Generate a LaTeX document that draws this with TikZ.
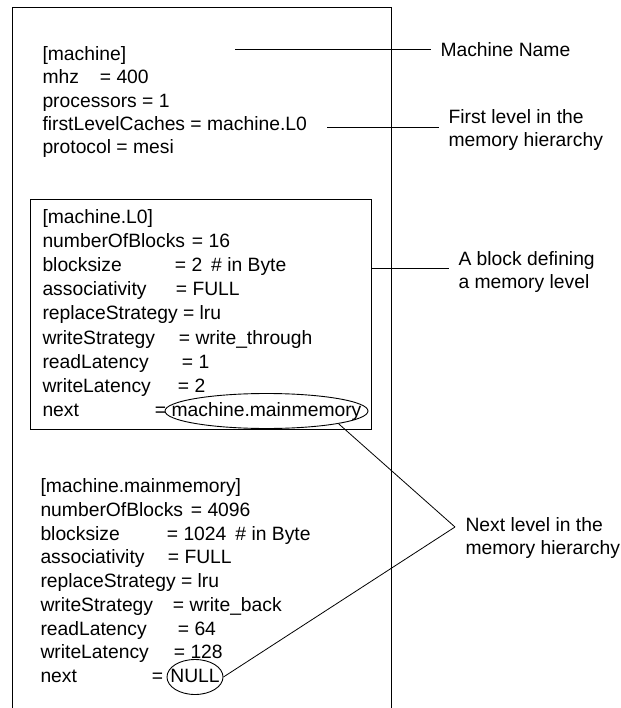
\documentclass[tikz,border=0pt]{standalone}
\usepackage{fontspec}
\setmainfont{Liberation Sans}
\usetikzlibrary{shapes.geometric}
\newcommand\cfgfont{\fontsize{19.3}{23}\selectfont}
\newcommand\kv[3]{\makebox[#1pt][l]{#2}=\ #3}

\begin{document}
\begin{tikzpicture}[x=1pt,y=-1pt,line width=1pt,
  code/.style={anchor=base west,inner sep=0pt,font=\cfgfont},
  note/.style={anchor=west,inner xsep=9pt,inner ysep=0pt,align=left,font=\cfgfont},
  ring/.style={draw,ellipse,inner sep=0pt,line width=.9pt}]
  \useasboundingbox (0,0) rectangle (620,708);
  % frames
  \draw (12,708) -- (12,8) -- (391,8) -- (391,708);
  \draw (30,200) rectangle (371,429);
  % machine section
  \foreach \txt [count=\i from 0] in {{[machine]},{\kv{57.4}{mhz}{400}},
      {processors = 1},{firstLevelCaches = machine.L0},{protocol = mesi}}
    \node[code] (top\i) at (42,{60.5+23.3*\i}) {\txt};
  % first level block
  \foreach \txt [count=\i from 0] in {{[machine.L0]},
      {\kv{149.4}{numberOfBlocks}{16}},
      {\kv{132.4}{blocksize}{2\hspace{9pt}\# in Byte}},
      {\kv{133.4}{associativity}{FULL}},
      {replaceStrategy = lru},
      {\kv{136.4}{writeStrategy}{write\_through}},
      {\kv{139.4}{readLatency}{1}},
      {\kv{135.4}{writeLatency}{2}},
      {\makebox[112.4pt][l]{next}=}}
    \node[code] (lzero\i) at (42,{223.5+24.1*\i}) {\txt};
  % main memory block
  \foreach \txt [count=\i from 0] in {{[machine.mainmemory]},
      {\kv{150.4}{numberOfBlocks}{4096}},
      {\kv{126.4}{blocksize}{1024\hspace{9pt}\# in Byte}},
      {\kv{127.4}{associativity}{FULL}},
      {replaceStrategy = lru},
      {\kv{132.4}{writeStrategy}{write\_back}},
      {\kv{137.4}{readLatency}{64}},
      {\kv{133.4}{writeLatency}{128}},
      {\makebox[111.4pt][l]{next}=}}
    \node[code] (main\i) at (40,{492.5+23.75*\i}) {\txt};
  % circled values
  \node[ring,minimum width=203pt,minimum height=35pt] (ringMM) at (266.5,411) {};
  \node[code,anchor=base] (valMM) at (266.5,416.5) {machine.mainmemory};
  \node[ring,minimum width=56pt,minimum height=35pt] (ringNull) at (195,677) {};
  \node[code,anchor=base] (valNull) at (195,682.5) {NULL};
  % notes
  \node[note] (nName) at (431,50) {Machine Name};
  \node[note] (nFirst) at (439,130.5) {First level in the\\memory hierarchy};
  \node[note] (nBlock) at (449,272.5) {A block defining\\a memory level};
  \node[note] (nNext) at (456,538.5) {Next level in the\\memory hierarchy};
  \coordinate (cName) at (235,49.5);
  \coordinate (cFirst) at (327,127.5);
  \coordinate (cBlock) at (371,268);
  \coordinate (cNext) at (455,527);
  \draw (cName) -- (cName -| nName.west);
  \draw (cFirst) -- (cFirst -| nFirst.west);
  \draw (cBlock) -- (cBlock -| nBlock.west);
  \draw[line width=.8pt] (ringMM.-10) -- (cNext);
  \draw[line width=.8pt] (ringNull.east) -- (cNext);
\end{tikzpicture}
\end{document}
